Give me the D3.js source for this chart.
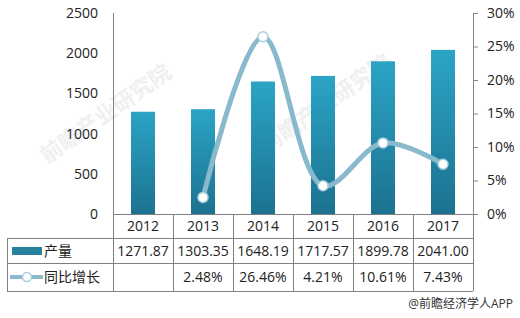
<!DOCTYPE html>
<html>
<head>
<meta charset="utf-8">
<script src="https://cdn.jsdelivr.net/npm/d3@7"></script>
<style>
  body { margin: 0; background: #fff; }
  text { font-family: "Open Sans", "Noto Sans", "Noto Sans CJK SC", sans-serif; }
</style>
</head>
<body>
<div id="chart"></div>
<script>
var years = ["2012", "2013", "2014", "2015", "2016", "2017"];
var output = [1271.87, 1303.35, 1648.19, 1717.57, 1899.78, 2041.00];
var outputLabels = ["1271.87", "1303.35", "1648.19", "1717.57", "1899.78", "2041.00"];
var growth = [null, 2.48, 26.46, 4.21, 10.61, 7.43];
var growthLabels = ["", "2.48%", "26.46%", "4.21%", "10.61%", "7.43%"];
var leftTicks = [0, 500, 1000, 1500, 2000, 2500];
var rightTicks = [0, 5, 10, 15, 20, 25, 30];
var seriesNames = ["产量", "同比增长"];

var width = 520, height = 318;
var plotLeft = 113, plotRight = 473, plotTop = 13, plotBottom = 214;
var tableLeft = 7;
var rowLines = [214, 238, 263, 291];

var svg = d3.select("#chart").append("svg")
    .attr("width", width)
    .attr("height", height);

var defs = svg.append("defs");
var grad = defs.append("linearGradient")
    .attr("id", "barGrad")
    .attr("x1", 0).attr("y1", 0).attr("x2", 0).attr("y2", 1);
grad.append("stop").attr("offset", "0%").attr("stop-color", "#2ba4c6");
grad.append("stop").attr("offset", "100%").attr("stop-color", "#1c7290");

// faint watermark
var wm = svg.append("g").attr("fill", "#eef0f2").style("font-size", "22px").style("font-weight", "bold");
[[110, 120], [330, 110]].forEach(function(p) {
    wm.append("text")
        .attr("transform", "translate(" + p[0] + "," + p[1] + ") rotate(-35)")
        .attr("text-anchor", "middle")
        .text("前瞻产业研究院");
});

var x = d3.scaleBand()
    .domain(years)
    .range([plotLeft, plotRight])
    .paddingInner(0.6)
    .paddingOuter(0.3);

var yL = d3.scaleLinear().domain([0, 2500]).range([plotBottom, plotTop]);
var yR = d3.scaleLinear().domain([0, 30]).range([plotBottom, plotTop]);

var colW = (plotRight - plotLeft) / years.length;
function colCenter(i) { return plotLeft + colW * (i + 0.5); }

// bars
svg.selectAll(".bar")
    .data(output)
    .enter()
    .append("rect")
    .attr("class", "bar")
    .attr("x", (d, i) => x(years[i]))
    .attr("y", d => yL(d))
    .attr("width", x.bandwidth())
    .attr("height", d => plotBottom - yL(d))
    .attr("fill", "url(#barGrad)");

// left axis
var axL = svg.append("g")
    .attr("transform", "translate(" + plotLeft + ",0)")
    .call(d3.axisLeft(yL).tickValues(leftTicks).tickSize(0).tickPadding(15).tickFormat(d3.format("d")));
axL.select(".domain").attr("stroke", "#868686");
axL.selectAll("text").style("font-size", "14px").attr("fill", "#222");

// right axis
var axR = svg.append("g")
    .attr("transform", "translate(" + plotRight + ",0)")
    .call(d3.axisRight(yR).tickValues(rightTicks).tickSize(5).tickPadding(9).tickFormat(d => d + "%"));
axR.select(".domain").attr("stroke", "#868686");
axR.selectAll("line").attr("stroke", "#868686");
axR.selectAll("text").style("font-size", "14px").attr("fill", "#222");

// growth line
var pts = growth.map((d, i) => [colCenter(i), d]).filter(p => p[1] !== null);
var line = d3.line()
    .x(p => p[0])
    .y(p => yR(p[1]))
    .curve(d3.curveCatmullRom.alpha(0.5));
svg.append("path")
    .attr("d", line(pts))
    .attr("fill", "none")
    .attr("stroke", "#89b9cc")
    .attr("stroke-width", 5)
    .attr("stroke-linecap", "round");
svg.selectAll(".dot")
    .data(pts)
    .enter()
    .append("circle")
    .attr("cx", p => p[0])
    .attr("cy", p => yR(p[1]))
    .attr("r", 5)
    .attr("fill", "#fff")
    .attr("stroke", "#a9cfdc")
    .attr("stroke-width", 1.5);

// table grid
var grid = svg.append("g").attr("stroke", "#7f7f7f").attr("stroke-width", 1);
grid.append("line").attr("x1", plotLeft).attr("x2", plotRight + 5).attr("y1", plotBottom + 0.5).attr("y2", plotBottom + 0.5);
[rowLines[1], rowLines[2], rowLines[3]].forEach(function(yy) {
    grid.append("line").attr("x1", tableLeft).attr("x2", plotRight).attr("y1", yy + 0.5).attr("y2", yy + 0.5);
});
grid.append("line").attr("x1", tableLeft + 0.5).attr("x2", tableLeft + 0.5).attr("y1", rowLines[1]).attr("y2", rowLines[3]);
for (var c = 0; c <= years.length; c++) {
    var xx = Math.round(plotLeft + colW * c) + 0.5;
    grid.append("line").attr("x1", xx).attr("x2", xx).attr("y1", c === 0 ? plotTop : rowLines[0]).attr("y2", rowLines[3]);
}

// table text
function rowText(labels, cy) {
    svg.append("g").selectAll("text")
        .data(labels)
        .enter()
        .append("text")
        .attr("x", (d, i) => colCenter(i))
        .attr("y", cy)
        .attr("dy", "0.35em")
        .attr("text-anchor", "middle")
        .style("font-size", "14px")
        .attr("fill", "#222")
        .text(d => d);
}
rowText(years, 226);
rowText(outputLabels, 251);
rowText(growthLabels, 277);

// legend inside table
svg.append("rect").attr("x", 12).attr("y", 247).attr("width", 30).attr("height", 8).attr("fill", "#26809e");
svg.append("text").attr("x", 44).attr("y", 251).attr("dy", "0.35em")
    .style("font-size", "14px").attr("fill", "#222").text(seriesNames[0]);
svg.append("line").attr("x1", 10).attr("x2", 43).attr("y1", 277).attr("y2", 277)
    .attr("stroke", "#89b9cc").attr("stroke-width", 4);
svg.append("circle").attr("cx", 27).attr("cy", 277).attr("r", 4.5)
    .attr("fill", "#fff").attr("stroke", "#a9cfdc").attr("stroke-width", 1.5);
svg.append("text").attr("x", 44).attr("y", 277).attr("dy", "0.35em")
    .style("font-size", "14px").attr("fill", "#222").text(seriesNames[1]);

// source
svg.append("text")
    .attr("x", 513).attr("y", 308)
    .attr("text-anchor", "end")
    .style("font-size", "12px")
    .attr("fill", "#333")
    .text("@前瞻经济学人APP");
</script>
</body>
</html>
